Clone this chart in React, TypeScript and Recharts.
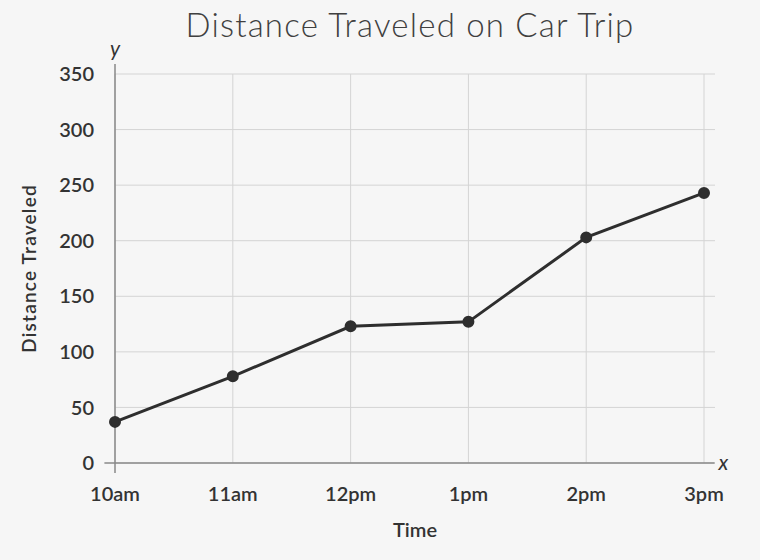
import React from "react";
import {
  LineChart,
  Line,
  XAxis,
  YAxis,
  CartesianGrid,
  ReferenceLine,
} from "recharts";

const times = ["10am", "11am", "12pm", "1pm", "2pm", "3pm"];
const distances = [37, 78, 123, 127, 203, 243];
const yTicks = [0, 50, 100, 150, 200, 250, 300, 350];
const xTicks = [0, 1, 2, 3, 4, 5];

const data = times.map((t, i) => ({ idx: i, time: t, distance: distances[i] }));

const FONT = "Lato, 'Open Sans', sans-serif";
const INK = "#333333";
const GRID = "#d4d4d4";

export default function App() {
  return (
    <div
      style={{
        position: "absolute",
        left: 0,
        top: 0,
        width: 760,
        height: 560,
        background: "#f6f6f6",
        fontFamily: FONT,
      }}
    >
      <div
        style={{
          position: "absolute",
          left: 115,
          width: 590,
          top: 4,
          textAlign: "center",
          fontSize: 33,
          fontWeight: 300,
          color: "#404040",
          letterSpacing: 1.2,
          whiteSpace: "nowrap",
        }}
      >
        Distance Traveled on Car Trip
      </div>
      <LineChart
        width={760}
        height={560}
        data={data}
        margin={{ top: 74, right: 45, left: 0, bottom: 0 }}
      >
        <CartesianGrid stroke={GRID} strokeWidth={1} vertical={false} />
        {xTicks.map((t) => (
          <ReferenceLine key={t} x={t} stroke={GRID} strokeWidth={1} />
        ))}
        <XAxis
          dataKey="idx"
          type="number"
          domain={[0, 5]}
          ticks={xTicks}
          tickFormatter={(i) => times[i]}
          padding={{ left: 0, right: 11 }}
          axisLine={false}
          tickLine={false}
          tickSize={8}
          tickMargin={16}
          height={97}
          tick={{ fill: INK, fontSize: 20, fontWeight: 600, fontFamily: FONT }}
          label={{
            value: "Time",
            position: "insideBottom",
            offset: 23,
            fill: INK,
            fontSize: 20,
            fontWeight: 600,
            fontFamily: FONT,
          }}
        />
        <YAxis
          domain={[0, 350]}
          ticks={yTicks}
          width={115}
          axisLine={false}
          tickLine={false}
          tickSize={8}
          tickMargin={13}
          tick={{ fill: INK, fontSize: 20, fontWeight: 600, fontFamily: FONT }}
          label={{
            content: ({ viewBox }: any) => (
              <text
                x={viewBox.x + 28}
                y={viewBox.y + viewBox.height / 2}
                transform={`rotate(-90, ${viewBox.x + 28}, ${viewBox.y + viewBox.height / 2})`}
                textAnchor="middle"
                dominantBaseline="central"
                fill={INK}
                fontSize={19}
                fontWeight={600}
                fontFamily={FONT}
                letterSpacing={1.2}
              >
                Distance Traveled
              </text>
            ),
          }}
        />
        <ReferenceLine
          segment={[
            { x: 0, y: -9 },
            { x: 0, y: 359 },
          ]}
          stroke="#888888"
          strokeWidth={1.5}
          ifOverflow="visible"
          label={{
            value: "y",
            position: "top",
            offset: 8,
            fill: INK,
            fontSize: 21,
            fontStyle: "italic",
            fontFamily: FONT,
          }}
        />
        <ReferenceLine
          segment={[
            { x: -0.09, y: 0 },
            { x: 5.09, y: 0 },
          ]}
          stroke="#888888"
          strokeWidth={1.5}
          ifOverflow="visible"
          label={{
            value: "x",
            position: "right",
            offset: 4,
            fill: INK,
            fontSize: 21,
            fontStyle: "italic",
            fontFamily: FONT,
          }}
        />
        <Line
          dataKey="distance"
          type="linear"
          stroke="#2e2e2e"
          strokeWidth={3}
          dot={{ r: 5, fill: "#2e2e2e", stroke: "#2e2e2e", strokeWidth: 2 }}
          activeDot={false}
          isAnimationActive={false}
        />
      </LineChart>
    </div>
  );
}
